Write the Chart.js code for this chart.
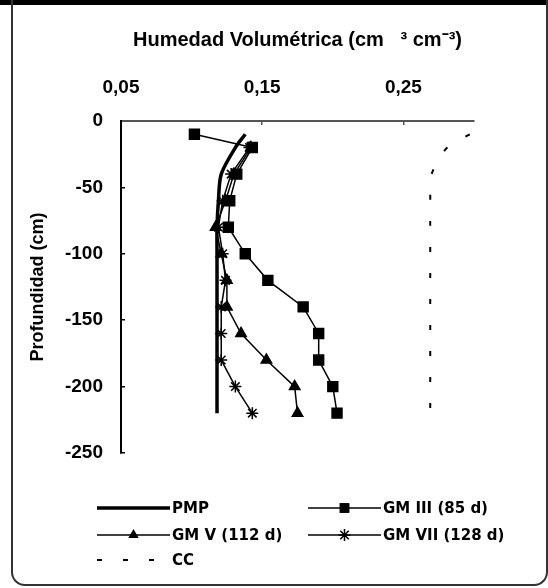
<!DOCTYPE html>
<html>
<head>
<meta charset="utf-8">
<script src="https://cdn.jsdelivr.net/npm/chart.js@4/dist/chart.umd.min.js"></script>
<style>
    html, body { margin: 0; padding: 0; background: #fff; }
    #wrap { position: relative; width: 548px; height: 588px; overflow: hidden; }
    #band { position: absolute; left: 0; top: 0; width: 548px; height: 5px; background: #000; }
    #frame {
        position: absolute; left: 11px; top: 0; width: 533px; height: 584px;
        border: 2px solid #333; border-top: none;
        border-radius: 0 0 14px 14px;
    }
    canvas { position: absolute; left: 0; top: 0; }
</style>
</head>
<body>
<div id="wrap">
    <div id="band"></div>
    <div id="frame"></div>
    <canvas id="perfilChart" width="548" height="588"></canvas>
</div>
<script>
// Profundidades de muestreo (cm)
const depths = [-10, -20, -40, -60, -80, -100, -120, -140, -160, -180, -200, -220];

// Humedad volumétrica (cm3 cm-3) por fecha
const pmp   = [0.138, 0.131, 0.121, 0.119, 0.118, 0.118, 0.118, 0.118, 0.118, 0.118, 0.118, 0.118];
const gm3   = [0.102, 0.143, 0.132, 0.127, 0.126, 0.138, 0.154, 0.179, 0.190, 0.190, 0.200, 0.203];
const gm5   = [null, 0.142, 0.130, 0.124, 0.117, 0.121, 0.125, 0.125, 0.135, 0.153, 0.173, 0.175];
const gm7   = [null, 0.141, 0.128, 0.122, 0.119, 0.122, 0.124, 0.121, 0.121, 0.121, 0.131, 0.143];
const cc    = [0.297, 0.281, 0.270, 0.269, 0.269, 0.269, 0.269, 0.269, 0.269, 0.269, 0.269, 0.269];

const xTicks = [0.05, 0.15, 0.25];
const yTicks = [0, -50, -100, -150, -200, -250];

// Convierte una serie en puntos {x, y} saltando los vacíos
function toPoints(values) {
    return values
        .map((v, i) => ({ x: v, y: depths[i] }))
        .filter(p => p.x !== null);
}

function fmt(v) {
    return v.toFixed(2).replace('.', ',');
}

// Dibuja un marcador simple (cuadrado, triángulo o asterisco)
function drawMarker(ctx, style, x, y, r) {
    ctx.save();
    ctx.fillStyle = '#000';
    ctx.strokeStyle = '#000';
    ctx.lineWidth = 1.5;
    ctx.beginPath();
    if (style === 'rect') {
        const s = r * Math.SQRT1_2;
        ctx.rect(x - s, y - s, 2 * s, 2 * s);
        ctx.fill();
    } else if (style === 'triangle') {
        ctx.moveTo(x, y - r);
        ctx.lineTo(x + r * 0.866, y + r * 0.5);
        ctx.lineTo(x - r * 0.866, y + r * 0.5);
        ctx.closePath();
        ctx.fill();
    } else if (style === 'star') {
        for (let k = 0; k < 4; k++) {
            const a = k * Math.PI / 4;
            ctx.moveTo(x - r * Math.cos(a), y - r * Math.sin(a));
            ctx.lineTo(x + r * Math.cos(a), y + r * Math.sin(a));
        }
        ctx.stroke();
    }
    ctx.restore();
}

// Leyenda en dos columnas debajo del gráfico
const legendPlugin = {
    id: 'legendaPerfil',
    afterDraw(chart) {
        const ctx = chart.ctx;
        const cols = [97, 308];
        const rows = [508, 535, 560];
        const sampleW = 73;
        chart.data.datasets.forEach((ds, i) => {
            const x = cols[i % 2];
            const y = rows[Math.floor(i / 2)];
            ctx.save();
            ctx.strokeStyle = '#000';
            ctx.lineWidth = ds.borderWidth;
            ctx.setLineDash(ds.borderDash || []);
            ctx.beginPath();
            ctx.moveTo(x, y);
            ctx.lineTo(x + sampleW, y);
            ctx.stroke();
            ctx.restore();
            if (ds.pointRadius > 0) {
                drawMarker(ctx, ds.pointStyle, x + sampleW / 2, y, ds.pointRadius);
            }
            ctx.save();
            ctx.fillStyle = '#000';
            ctx.font = 'bold 15px "DejaVu Sans"';
            ctx.textBaseline = 'middle';
            ctx.fillText(ds.label, x + sampleW + 2, y + 1);
            ctx.restore();
        });
    }
};

const axisFont = { family: '"Liberation Sans", Arial, sans-serif', size: 19, weight: 'bold' };

const config = {
    type: 'line',
    data: {
        datasets: [
            {
                label: 'PMP',
                data: toPoints(pmp),
                borderColor: '#000',
                borderWidth: 3.5,
                pointRadius: 0,
                tension: 0.3
            },
            {
                label: 'GM III (85 d)',
                data: toPoints(gm3),
                borderColor: '#000',
                backgroundColor: '#000',
                borderWidth: 1.5,
                pointStyle: 'rect',
                pointRadius: 7
            },
            {
                label: 'GM V (112 d)',
                data: toPoints(gm5),
                borderColor: '#000',
                backgroundColor: '#000',
                borderWidth: 1.5,
                pointStyle: 'triangle',
                pointRadius: 6
            },
            {
                label: 'GM VII (128 d)',
                data: toPoints(gm7),
                borderColor: '#000',
                backgroundColor: '#000',
                borderWidth: 1.5,
                pointStyle: 'star',
                pointRadius: 6
            },
            {
                label: 'CC',
                data: toPoints(cc),
                borderColor: '#000',
                borderWidth: 2,
                borderDash: [5, 21],
                pointRadius: 0,
                tension: 0.3
            }
        ]
    },
    options: {
        responsive: false,
        animation: false,
        layout: {
            padding: { top: 20, left: 20, right: 74, bottom: 135 }
        },
        plugins: {
            legend: { display: false },
            tooltip: { enabled: false }
        },
        scales: {
            x: {
                type: 'linear',
                position: 'top',
                min: 0.05,
                max: 0.30,
                afterBuildTicks: scale => {
                    scale.ticks = xTicks.map(v => ({ value: v }));
                },
                afterFit: scale => { scale.height = 101; },
                border: { color: '#555', width: 2 },
                grid: { drawOnChartArea: false, tickLength: -4, color: '#555', lineWidth: 1.5 },
                ticks: {
                    color: '#000',
                    font: axisFont,
                    padding: 26,
                    callback: v => fmt(v)
                },
                title: {
                    display: true,
                    text: 'Humedad Volumétrica (cm   ³ cm⁻³)',
                    color: '#000',
                    font: { family: '"Liberation Sans", Arial, sans-serif', size: 20, weight: 'bold' },
                    padding: { top: 8, bottom: 0 }
                }
            },
            y: {
                type: 'linear',
                min: -250,
                max: 0,
                afterBuildTicks: scale => {
                    scale.ticks = yTicks.map(v => ({ value: v }));
                },
                afterFit: scale => { scale.width = 101; },
                border: { color: '#000', width: 2 },
                grid: { drawOnChartArea: false, tickLength: -4, color: '#000', lineWidth: 1.5 },
                ticks: {
                    color: '#000',
                    font: axisFont,
                    padding: 22
                },
                title: {
                    display: true,
                    text: 'Profundidad (cm)',
                    color: '#000',
                    font: { family: '"Liberation Sans", Arial, sans-serif', size: 18, weight: 'bold' },
                    padding: { top: 7, bottom: 0 }
                }
            }
        }
    },
    plugins: [legendPlugin]
};

new Chart(document.getElementById('perfilChart').getContext('2d'), config);
</script>
</body>
</html>
